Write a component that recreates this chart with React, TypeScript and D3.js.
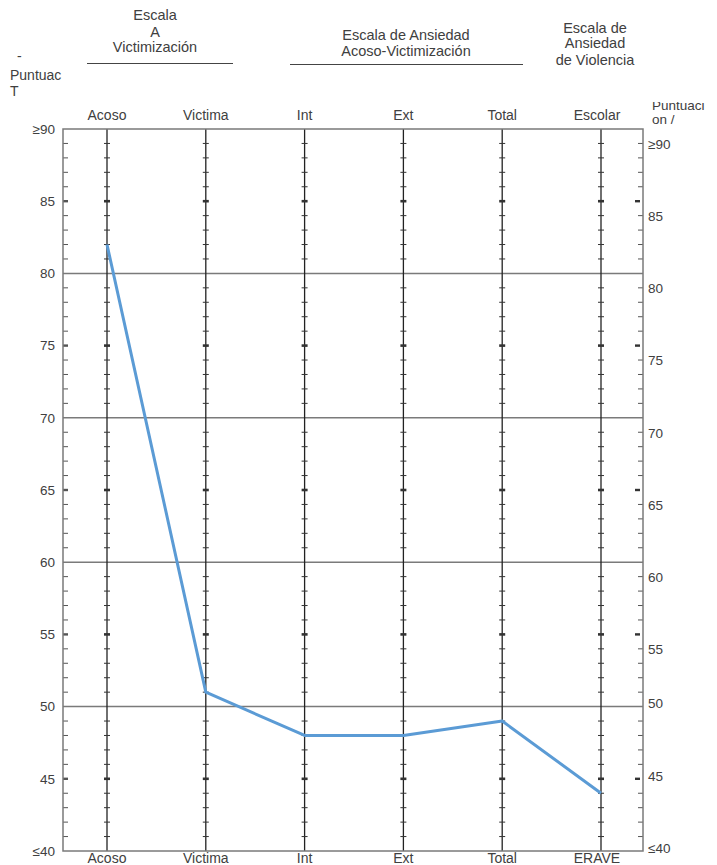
import React from "react";
import * as d3 from "d3";

const topLabels = ["Acoso", "Victima", "Int", "Ext", "Total", "Escolar"];
const bottomLabels = ["Acoso", "Victima", "Int", "Ext", "Total", "ERAVE"];
const values = [82, 51, 48, 48, 49, 44];
const gridValues = [80, 70, 60, 50];
const labelValues = [90, 85, 80, 75, 70, 65, 60, 55, 50, 45, 40];
const labelText = ["≥90", "85", "80", "75", "70", "65", "60", "55", "50", "45", "≤40"];

const W = 717, H = 865;
const L = 63, R = 643, T = 129, B = 851;
const FONT = "'Liberation Sans', Arial, sans-serif";
const TXT = "#404040";

export default function App() {
  const x = d3.scalePoint<string>().domain(bottomLabels).range([107, 601]);
  const y = d3.scaleLinear().domain([40, 90]).range([B, T]);
  const line = d3.line<number>().x((_, i) => x(bottomLabels[i]) as number).y((d) => y(d));
  const units = d3.range(41, 90);
  const isFive = (v: number) => v % 5 === 0;
  const isGrid = (v: number) => gridValues.includes(v);

  return (
    <svg width={W} height={H} style={{ position: "absolute", left: 0, top: 0, background: "#fff" }} fontFamily={FONT}>
      <defs>
        <clipPath id="rclip"><rect x={640} y={102} width={80} height={40} /></clipPath>
      </defs>
      {/* headers */}
      <g fill={TXT} fontSize={14.5} textAnchor="middle">
        <text x={155} y={20}>Escala</text>
        <text x={155} y={37}>A</text>
        <text x={155} y={52}>Victimización</text>
        <text x={406} y={40}>Escala de Ansiedad</text>
        <text x={406} y={56}>Acoso-Victimización</text>
        <text x={595} y={33}>Escala de</text>
        <text x={595} y={48}>Ansiedad</text>
        <text x={595} y={65}>de Violencia</text>
      </g>
      <line x1={87} x2={233} y1={63.5} y2={63.5} stroke="#444" strokeWidth={1} />
      <line x1={290} x2={523} y1={64.5} y2={64.5} stroke="#444" strokeWidth={1} />
      <g fill={TXT} fontSize={14}>
        <text x={17} y={61}>-</text>
        <text x={10} y={80}>Puntuac</text>
        <text x={10} y={96}>T</text>
      </g>
      <g fill={TXT} fontSize={13.5} clipPath="url(#rclip)">
        <text x={652} y={110}>Puntuaci</text>
        <text x={652} y={124}>on /</text>
      </g>
      {/* category labels */}
      <g fill={TXT} fontSize={14} textAnchor="middle">
        {topLabels.map((c, i) => (
          <text key={"t" + c} x={(x(bottomLabels[i]) as number) - (i === 5 ? 4 : 0)} y={120}>{c}</text>
        ))}
        {bottomLabels.map((c) => (
          <text key={"b" + c} x={(x(c) as number) - (c === "ERAVE" ? 4 : 0)} y={863}>{c}</text>
        ))}
      </g>
      {/* gridlines */}
      {gridValues.map((v) => (
        <line key={"g" + v} x1={L} x2={R} y1={y(v)} y2={y(v)} stroke="#7a7a7a" strokeWidth={1.5} />
      ))}
      {/* category vertical lines and ticks */}
      {bottomLabels.map((c) => {
        const cx = x(c) as number;
        return (
          <g key={"v" + c}>
            <line x1={cx} x2={cx} y1={T} y2={B} stroke="#222" strokeWidth={1.3} />
            {units.filter((v) => !isGrid(v)).map((v) => (
              <line key={v} x1={cx - 3} x2={cx + 3} y1={y(v)} y2={y(v)} stroke="#333" strokeWidth={isFive(v) ? 2.6 : 1} />
            ))}
          </g>
        );
      })}
      {/* left border ticks */}
      {units.filter((v) => !isGrid(v)).map((v) => (
        <line key={"l" + v} x1={L} x2={L + 5} y1={y(v)} y2={y(v)} stroke="#555" strokeWidth={isFive(v) ? 2.4 : 1} />
      ))}
      {/* right border ticks */}
      {units.filter((v) => !isGrid(v)).map((v) => (
        isFive(v) ? (
          <line key={"r" + v} x1={R - 8} x2={R - 3} y1={y(v)} y2={y(v)} stroke="#333" strokeWidth={2.4} />
        ) : (
          <line key={"r" + v} x1={R - 5} x2={R} y1={y(v)} y2={y(v)} stroke="#555" strokeWidth={1} />
        )
      ))}
      {/* frame */}
      <rect x={L} y={T} width={R - L} height={B - T} fill="none" stroke="#7a7a7a" strokeWidth={1.5} />
      {/* left labels */}
      <g fill={TXT} fontSize={13.5} textAnchor="end">
        {labelValues.map((v, i) => (
          <text key={"ll" + v} x={55} y={y(v)} dy="0.35em">{labelText[i]}</text>
        ))}
      </g>
      {/* right labels */}
      <g fill={TXT} fontSize={13.5}>
        {labelValues.map((v, i) => (
          <text key={"rl" + v} x={648} y={y(v) + (v > 50 ? 15 : -3)} dy="0.35em">{labelText[i]}</text>
        ))}
      </g>
      {/* data line */}
      <path d={line(values) as string} fill="none" stroke="#5b9bd5" strokeWidth={3} strokeLinejoin="round" />
    </svg>
  );
}
